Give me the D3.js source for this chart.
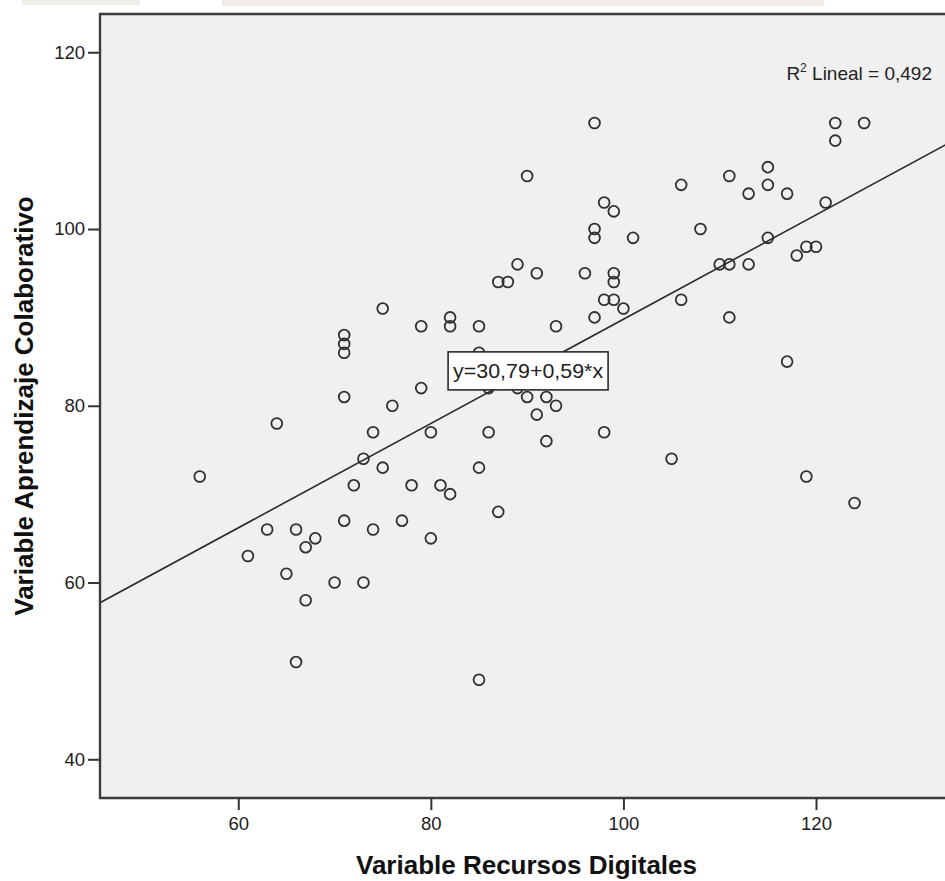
<!DOCTYPE html>
<html>
<head>
<meta charset="utf-8">
<script src="https://cdn.jsdelivr.net/npm/d3@7"></script>
<style>
  html, body { margin: 0; padding: 0; background: #ffffff; }
  svg { display: block; }
  text { font-family: Arial, "Liberation Sans", Helvetica, sans-serif; }
</style>
</head>
<body>
<svg id="chart" width="945" height="881"></svg>
<script>
// Scatter of the two study variables with a fitted linear regression line.
const recursosDigitales = [
  56, 61, 63, 64, 65, 66, 66, 67, 67, 68,
  70, 71, 71, 71, 71, 71, 72, 73, 73, 74,
  74, 75, 75, 76, 77, 78, 79, 79, 80, 80,
  81, 82, 82, 82, 85, 85, 85, 85, 86, 86,
  87, 87, 88, 89, 89, 90, 90, 91, 91, 92,
  92, 93, 93, 96, 97, 97, 97, 97, 98, 98,
  98, 99, 99, 99, 99, 100, 101, 105, 106, 106,
  108, 110, 111, 111, 111, 113, 113, 115, 115, 115,
  117, 117, 118, 119, 119, 120, 121, 122, 122, 124,
  125
];
const aprendizajeColaborativo = [
  72, 63, 66, 78, 61, 66, 51, 64, 58, 65,
  60, 88, 87, 86, 81, 67, 71, 74, 60, 77,
  66, 91, 73, 80, 67, 71, 89, 82, 77, 65,
  71, 90, 89, 70, 89, 86, 73, 49, 82, 77,
  94, 68, 94, 96, 82, 106, 81, 95, 79, 81,
  76, 89, 80, 95, 112, 100, 99, 90, 103, 92,
  77, 102, 95, 94, 92, 91, 99, 74, 105, 92,
  100, 96, 106, 96, 90, 104, 96, 107, 105, 99,
  104, 85, 97, 98, 72, 98, 103, 112, 110, 69,
  112
];

const xTicks = [60, 80, 100, 120];
const yTicks = [40, 60, 80, 100, 120];

// Fitted line: y = b0 + b1 * x
const intercept = 30.79;
const slope = 0.59;
const rSquared = "0,492";
const equationLabel = "y=30,79+0,59*x";
const equationAnchorX = 90.1;

const xTitle = "Variable Recursos Digitales";
const yTitle = "Variable Aprendizaje Colaborativo";

// Plot frame in pixels
const plotLeft = 100, plotTop = 14, plotRight = 950, plotBottom = 798;

const svg = d3.select("#chart");

const x = d3.scaleLinear().domain([45.64, 133.46]).range([plotLeft, plotLeft + 845.6]);
const y = d3.scaleLinear().domain([35.62, 124.33]).range([plotBottom, plotTop]);

// faint letterhead band along the very top edge
svg.append("rect").attr("x", 22).attr("y", 0).attr("width", 118).attr("height", 5).attr("fill", "#efede6");
svg.append("rect").attr("x", 222).attr("y", 0).attr("width", 602).attr("height", 6).attr("fill", "#efede6");

// plot background
svg.append("rect")
  .attr("x", plotLeft).attr("y", plotTop)
  .attr("width", plotRight - plotLeft).attr("height", plotBottom - plotTop)
  .attr("fill", "#f0f0f0");

const clipId = "plot-clip";
svg.append("clipPath").attr("id", clipId)
  .append("rect")
  .attr("x", plotLeft).attr("y", plotTop)
  .attr("width", plotRight - plotLeft).attr("height", plotBottom - plotTop);

const plot = svg.append("g").attr("clip-path", `url(#${clipId})`);

// data points
plot.append("g")
  .selectAll("circle")
  .data(recursosDigitales.map((v, i) => [v, aprendizajeColaborativo[i]]))
  .join("circle")
  .attr("cx", d => x(d[0]))
  .attr("cy", d => y(d[1]))
  .attr("r", 5.4)
  .attr("fill", "none")
  .attr("stroke", "#303030")
  .attr("stroke-width", 1.8);

// regression line across the whole x range
const [x0, x1] = x.domain();
plot.append("line")
  .attr("x1", x(x0)).attr("y1", y(intercept + slope * x0))
  .attr("x2", x(x1)).attr("y2", y(intercept + slope * x1))
  .attr("stroke", "#2a2a2a")
  .attr("stroke-width", 1.6);

// frame: left, top and bottom edges
svg.append("path")
  .attr("d", `M${plotRight},${plotTop} H${plotLeft} V${plotBottom} H${plotRight}`)
  .attr("fill", "none")
  .attr("stroke", "#3c3c3c")
  .attr("stroke-width", 2.4);

// axes
const xAxis = svg.append("g")
  .attr("transform", `translate(0,${plotBottom})`)
  .call(d3.axisBottom(x).tickValues(xTicks).tickSize(12).tickPadding(6.5).tickFormat(d3.format("d")));
const yAxis = svg.append("g")
  .attr("transform", `translate(${plotLeft},0)`)
  .call(d3.axisLeft(y).tickValues(yTicks).tickSize(12).tickPadding(3).tickFormat(d3.format("d")));

[xAxis, yAxis].forEach(ax => {
  ax.select(".domain").remove();
  ax.selectAll(".tick line").attr("stroke", "#333").attr("stroke-width", 2);
  ax.selectAll(".tick text")
    .attr("fill", "#222")
    .style("font-size", "18.5px")
    .style("font-family", "Arial, 'Liberation Sans', sans-serif");
});

// R squared annotation
const r2 = svg.append("text")
  .attr("x", 932).attr("y", 80)
  .attr("text-anchor", "end")
  .attr("fill", "#222")
  .style("font-size", "19px");
r2.append("tspan").text("R");
r2.append("tspan").attr("dy", -8).style("font-size", "12px").text("2");
r2.append("tspan").attr("dy", 8).text(" Lineal = " + rSquared);

// equation box sitting on the fitted line
const ex = x(equationAnchorX);
const ey = y(intercept + slope * equationAnchorX);
const boxW = 160, boxH = 38;
svg.append("rect")
  .attr("x", ex - boxW / 2).attr("y", ey - boxH / 2)
  .attr("width", boxW).attr("height", boxH)
  .attr("fill", "#ffffff")
  .attr("stroke", "#2a2a2a")
  .attr("stroke-width", 1.6);
svg.append("text")
  .attr("x", ex).attr("y", ey)
  .attr("dy", "0.36em")
  .attr("text-anchor", "middle")
  .attr("fill", "#222")
  .attr("textLength", 150)
  .attr("lengthAdjust", "spacingAndGlyphs")
  .style("font-size", "21px")
  .text(equationLabel);

// axis titles
svg.append("text")
  .attr("x", (plotLeft + 945) / 2 + 4).attr("y", 874)
  .attr("text-anchor", "middle")
  .attr("fill", "#111")
  .style("font-size", "26px")
  .style("font-weight", "bold")
  .text(xTitle);

svg.append("text")
  .attr("transform", `translate(33,${(plotTop + plotBottom) / 2}) rotate(-90)`)
  .attr("text-anchor", "middle")
  .attr("fill", "#111")
  .style("font-size", "26px")
  .style("font-weight", "bold")
  .text(yTitle);
</script>
</body>
</html>
